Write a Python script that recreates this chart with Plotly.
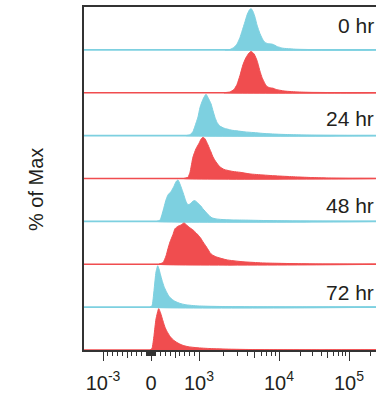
import math
import plotly.graph_objects as go

# ---------------- data (x in display channels of the biexponential scale, y in % of max)
blue_0hr_x = [225, 230, 234, 237, 240, 242, 245, 247, 249, 251, 253, 255, 257, 260, 263, 265, 268, 272, 275, 277, 280, 283, 290, 297, 310, 330, 360, 376]
blue_0hr_y = [0, 1, 6, 14, 30, 45, 68, 84, 95, 100, 93, 79, 60, 39, 24, 18, 15, 14, 11, 8, 6, 4, 2.5, 1.5, 0.8, 0.4, 0.2, 0.1]

red_0hr_x = [224, 230, 234, 237, 240, 243, 246, 249, 251, 254, 257, 260, 262, 265, 267, 270, 273, 276, 280, 285, 290, 297, 310, 330, 360, 376]
red_0hr_y = [0, 2, 8, 20, 42, 68, 85, 96, 100, 94, 78, 52, 37, 22, 15, 12, 11, 8, 6, 4, 3, 2, 1, 0.5, 0.2, 0.1]

blue_24hr_x = [186, 190, 193, 195, 198, 200, 203, 206, 208, 211, 213, 215, 217, 220, 224, 227, 232, 237, 245, 253, 265, 280, 295, 313, 330, 347, 376]
blue_24hr_y = [0, 2, 10, 23, 45, 68, 88, 100, 92, 77, 60, 44, 32, 23, 18, 16, 13, 11.5, 9, 7.5, 5, 3.2, 2, 1, 0.6, 0.3, 0.1]

red_24hr_x = [184, 188, 190, 193, 196, 199, 201, 203, 205, 208, 211, 213, 216, 220, 224, 227, 233, 240, 250, 263, 275, 287, 300, 313, 330, 350, 376]
red_24hr_y = [0, 3, 15, 52, 72, 85, 95, 100, 96, 81, 64, 52, 40, 28, 22, 20, 17, 15, 11, 8.5, 6.5, 5, 3.5, 2.2, 1, 0.4, 0.1]

blue_48hr_x = [157, 160, 163, 166, 168, 171, 174, 176, 178, 180, 183, 186, 188, 190, 193, 195, 198, 201, 203, 205, 208, 210, 212, 216, 222, 232, 247, 265, 290, 320, 350, 376]
blue_48hr_y = [0, 3, 25, 52, 64, 72, 85, 96, 100, 90, 70, 48, 40, 42, 49, 50, 44, 37, 30, 25, 17, 12, 8.5, 6, 4.5, 3.5, 3, 2, 1.2, 0.6, 0.3, 0.1]

red_48hr_x = [159, 163, 166, 168, 170, 173, 175, 178, 181, 184, 187, 190, 193, 196, 198, 201, 203, 205, 208, 210, 212, 216, 220, 226, 233, 243, 253, 265, 280, 300, 320, 350, 376]
red_48hr_y = [0, 4, 20, 38, 54, 72, 86, 92, 95, 100, 94, 88, 83, 76, 71, 62, 54, 47, 36, 28, 23, 18, 15, 11, 8.5, 6, 4.5, 3, 2.2, 1.2, 0.6, 0.3, 0.1]

blue_72hr_x = [150, 152, 154, 156, 157.7, 159, 160.5, 162, 164, 166, 168, 170, 172, 175, 180, 185, 190, 197, 210, 230, 260, 300, 376]
blue_72hr_y = [0, 3, 40, 85, 100, 92, 78, 65, 50, 39, 30, 23, 19, 14, 9, 6, 4.5, 3, 2, 1.2, 0.6, 0.3, 0.1]

red_72hr_x = [150, 152, 154, 156, 158.7, 160.5, 163, 165, 167, 170, 173, 177, 182, 188, 197, 210, 230, 250, 280, 320, 376]
red_72hr_y = [0, 4, 35, 75, 100, 90, 70, 55, 45, 33, 25, 18, 12, 8, 5.5, 3.5, 2, 1.2, 0.6, 0.3, 0.1]

time_labels = ["0 hr", "24 hr", "48 hr", "72 hr"]

major_tick_values = [-1e3, 0, 1e3, 1e4, 1e5]
major_tick_labels = ["10<sup>-3</sup>", "0", "10<sup>3</sup>", "10<sup>4</sup>", "10<sup>5</sup>"]
mid_tick_values = [-500, 500, 5e3, 5e4]
minor_tick_values = ([-900, -800, -700, -600, -400, -300, -200, -100]
                     + [-90, -80, -70, -60, -50, -40, -30, -20, -10, 10, 20, 30, 40, 50, 60, 70, 80, 90]
                     + [100, 200, 300, 400, 600, 700, 800, 900]
                     + [2e3, 3e3, 4e3, 6e3, 7e3, 8e3, 9e3]
                     + [2e4, 3e4, 4e4, 6e4, 7e4, 8e4, 9e4, 2e5])

# ---------------- style
BLUE = "#7dd0e0"
RED = "#f04d4f"
AX = "#333333"
TXT = "#231f20"
FONT = "Liberation Sans, Arial, sans-serif"
PANEL_FILL = 0.965      # fraction of a panel taken by 100 % of max
X_RANGE = [84, 376]


def biex(v):
    """Biexponential-like display transform (intensity -> display channel)."""
    a = abs(v)
    if a <= 1e3:
        f = 48 * a / 1e3
    elif a <= 1e4:
        f = 48 + 80 * math.log10(a / 1e3)
    else:
        f = 128 + 70 * math.log10(a / 1e4)
    return 151 + (f if v >= 0 else -f)


panels = [
    (blue_0hr_x, blue_0hr_y, BLUE),
    (red_0hr_x, red_0hr_y, RED),
    (blue_24hr_x, blue_24hr_y, BLUE),
    (red_24hr_x, red_24hr_y, RED),
    (blue_48hr_x, blue_48hr_y, BLUE),
    (red_48hr_x, red_48hr_y, RED),
    (blue_72hr_x, blue_72hr_y, BLUE),
    (red_72hr_x, red_72hr_y, RED),
]
n = len(panels)

fig = go.Figure()
shapes = []
for i, (xs, ys, col) in enumerate(panels):
    base = n - 1 - i
    yy = [base + PANEL_FILL * v / 100.0 for v in ys]
    fig.add_trace(go.Scatter(
        x=list(xs) + [xs[-1], xs[0]],
        y=yy + [base, base],
        mode="lines", fill="toself", fillcolor=col,
        line=dict(color=col, width=1, shape="spline", smoothing=0.5),
        hoverinfo="skip", showlegend=False))
    shapes.append(dict(type="line", xref="paper", x0=0, x1=1, yref="y",
                       y0=base, y1=base, line=dict(color=col, width=1.6), layer="above"))

label_offsets = [0.57, 0.39, 0.37, 0.35]
annotations = []
for k, lab in enumerate(time_labels):
    base = n - 1 - 2 * k
    annotations.append(dict(text=lab, xref="paper", x=1, xanchor="right", xshift=0,
                            yref="y", y=base + label_offsets[k], yanchor="middle",
                            showarrow=False, font=dict(family=FONT, size=21, color=TXT)))
annotations.append(dict(text="% of Max", xref="paper", x=-48 / 292, xanchor="center",
                        yref="paper", y=(350 - 190) / 343, yanchor="middle", textangle=-90,
                        showarrow=False, font=dict(family=FONT, size=20, color=TXT)))

common_overlay = dict(range=X_RANGE, overlaying="x", anchor="y", side="bottom",
                      showticklabels=False, showline=False, showgrid=False, zeroline=False,
                      ticks="outside", tickmode="array", tickcolor=AX, tickwidth=1, fixedrange=True)

fig.update_layout(
    width=376, height=403,
    margin=dict(l=84, r=0, t=7, b=53),
    paper_bgcolor="white", plot_bgcolor="white",
    font=dict(family=FONT, color=TXT),
    xaxis=dict(range=X_RANGE, showgrid=False, zeroline=False,
               showline=True, linecolor=AX, linewidth=1.6, mirror=True,
               ticks="outside", ticklen=9, tickwidth=1, tickcolor=AX,
               tickmode="array", tickvals=[biex(v) for v in major_tick_values],
               ticktext=major_tick_labels, ticklabelstandoff=5,
               tickfont=dict(family=FONT, size=20, color=TXT)),
    xaxis2=dict(tickvals=[biex(v) for v in mid_tick_values], ticklen=7, **common_overlay),
    xaxis3=dict(tickvals=[biex(v) for v in minor_tick_values], ticklen=5, **common_overlay),
    yaxis=dict(range=[0, n], showgrid=False, zeroline=False, showticklabels=False,
               ticks="", showline=True, linecolor=AX, linewidth=1.6),
    shapes=shapes,
    annotations=annotations,
)
# invisible anchors so the overlay tick axes are drawn
fig.add_trace(go.Scatter(x=[X_RANGE[0]], y=[0], xaxis="x2", mode="markers",
                         marker=dict(opacity=0), hoverinfo="skip", showlegend=False))
fig.add_trace(go.Scatter(x=[X_RANGE[0]], y=[0], xaxis="x3", mode="markers",
                         marker=dict(opacity=0), hoverinfo="skip", showlegend=False))

fig.write_html(
    "out.html",
    config={"displayModeBar": False},
    post_script="document.body.style.margin='0';document.body.style.overflow='hidden';",
)
